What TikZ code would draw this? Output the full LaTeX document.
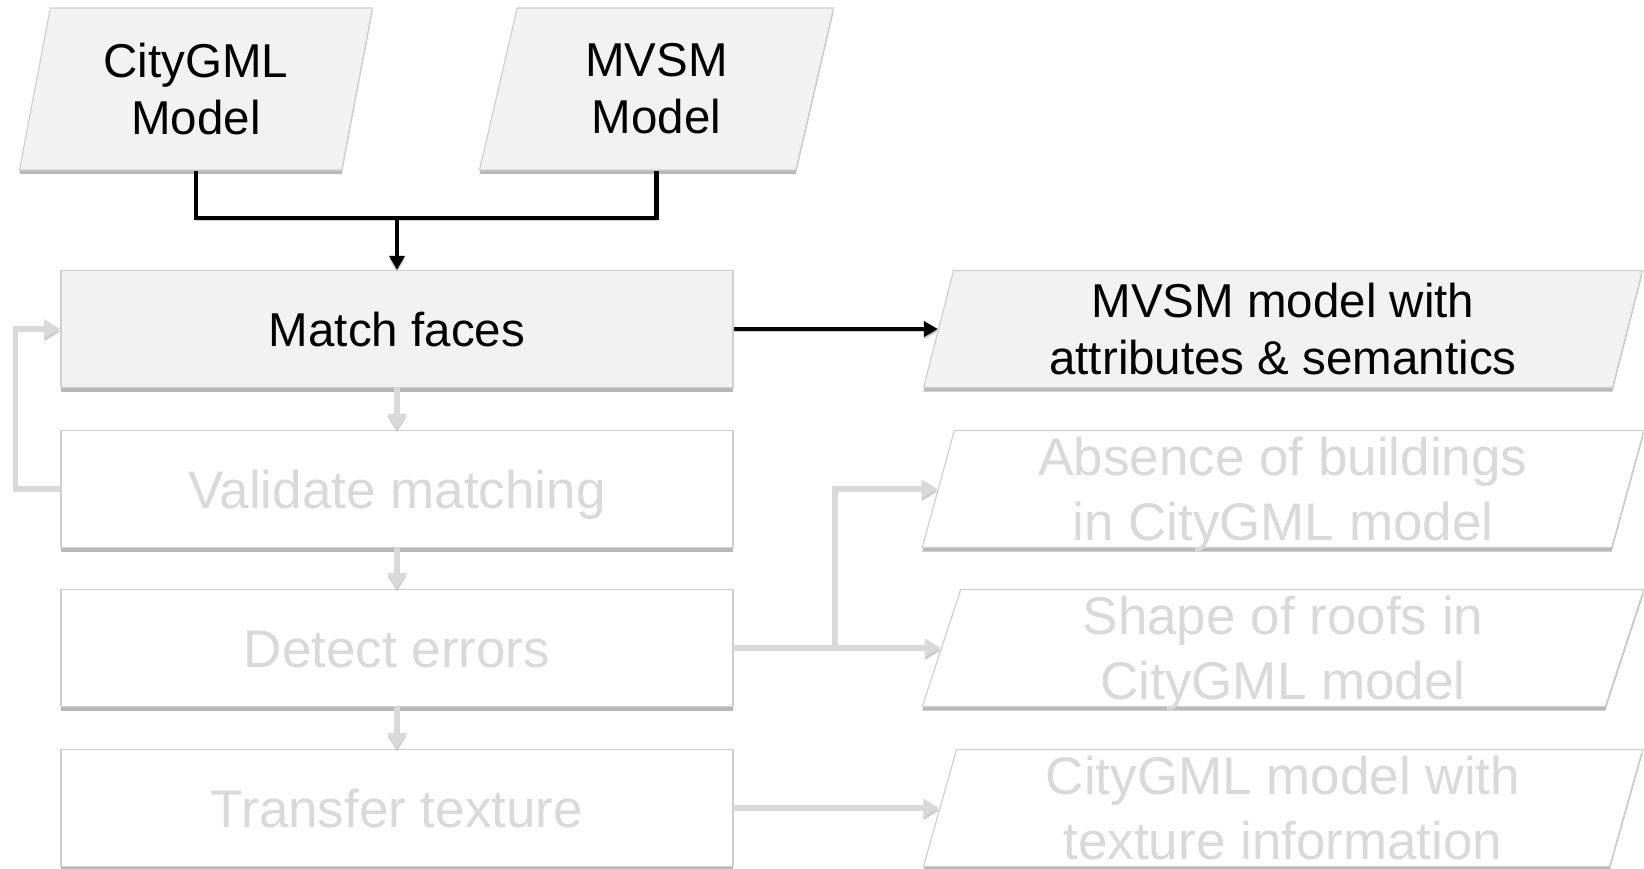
\documentclass[tikz,border=0pt]{standalone}
\usepackage{fontspec}
\setmainfont{Liberation Sans}
\usetikzlibrary{shapes.geometric,shadows,arrows.meta}
\definecolor{paleFill}{HTML}{F2F2F2}
\definecolor{edgeGray}{HTML}{D0D0D0}
\definecolor{fadeGray}{HTML}{D9D9D9}
\definecolor{shadeGray}{HTML}{A6A6A6}
\begin{document}
\begin{tikzpicture}[x=1pt,y=-1pt,
  boxbase/.style={draw=edgeGray, line width=1.2pt, inner sep=0pt,
    drop shadow={shadow xshift=0pt, shadow yshift=-4pt, fill=shadeGray, opacity=0.8}},
  procbox/.style={boxbase, rectangle, minimum width=672pt, minimum height=117pt},
  databox/.style={boxbase, trapezium, trapezium stretches=true,
    trapezium left angle=77, trapezium right angle=103,
    minimum width=722pt, minimum height=117pt, align=center},
  srcbox/.style={boxbase, trapezium, trapezium stretches=true,
    trapezium left angle=78, trapezium right angle=102,
    minimum width=354pt, minimum height=162pt, align=center},
  live/.style={fill=paleFill, text=black, font=\fontsize{47.5}{57}\selectfont},
  dim/.style={fill=white, text=fadeGray, font=\fontsize{53}{65}\selectfont},
  liveline/.style={live, text height=35pt, text depth=0pt},
  dimline/.style={dim, text height=38pt, text depth=0pt},
  flowshadow/.style={preaction={draw=shadeGray, draw opacity=0.55,
    transform canvas={yshift=-2.5pt}}},
  blackflow/.style={flowshadow, draw=black, line width=4.6pt,
    -{Triangle[length=14pt,width=15pt]}},
  grayflow/.style={flowshadow, draw=fadeGray, line width=5.6pt,
    -{Triangle[length=16pt,width=18pt]}}
]
\useasboundingbox (0,0) rectangle (1644,869);

% input models
\node[srcbox, live] (cg) at (196,89) {CityGML\\Model};
\node[srcbox, live] (mv) at (656.5,89) {MVSM\\Model};

% processing steps
\node[procbox, liveline] (match) at (397,329) {Match faces};
\node[procbox, dimline] (val) at (397,489) {Validate matching};
\node[procbox, dimline] (det) at (397,648) {Detect errors};
\node[procbox, dimline] (trf) at (397,808) {Transfer texture};

% outputs
\node[databox, live] (out1) at (1283,329) {MVSM model with\\attributes \& semantics};
\node[databox, dim] (out2) at (1283,489) {Absence of buildings\\\smash{in CityGML model}};
\node[databox, dim] (out3) at (1283,648) {Shape of roofs in\\\smash{CityGML model}};
\node[databox, dim] (out4) at (1283,808) {CityGML model with\\texture information};

% junction points
\coordinate (merge) at (397,218);
\coordinate (fork) at (835,648);

% active connectors
\draw[flowshadow, draw=black, line width=4.6pt] (cg.south) |- (merge) -| (mv.south);
\draw[blackflow] (merge) -- (match.north);
\draw[blackflow] (match.east) -- (out1.left side);

% faded connectors
\draw[grayflow] (match.south) -- (val.north);
\draw[grayflow] (val.south) -- (det.north);
\draw[grayflow] (det.south) -- (trf.north);
\draw[grayflow] (val.west) -- ++(-45,0) |- (match.west);
\draw[grayflow] (det.east) -- (fork) |- (out2.left side);
\draw[grayflow] (det.east) -- (out3.left side);
\draw[grayflow] (trf.east) -- (out4.left side);
\end{tikzpicture}
\end{document}
